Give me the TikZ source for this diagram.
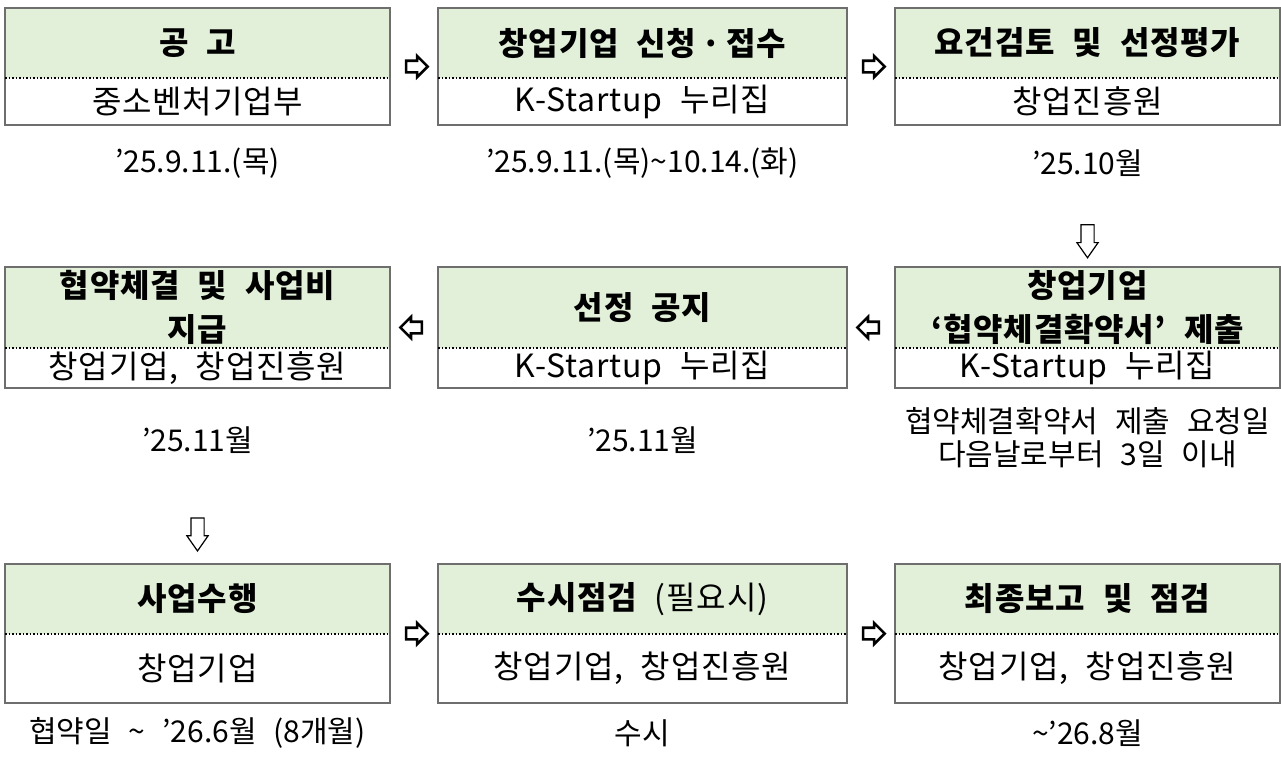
\documentclass[tikz,border=0pt]{standalone}
\usepackage{fontspec}
\setmainfont{Noto Sans CJK KR}[WordSpace=2.5]
\newfontfamily\boxfont{Noto Sans CJK KR}[WordSpace=2.2, LetterSpace=2.5]
\usepackage{xcolor}
\usepackage{tikz}
\usetikzlibrary{arrows.meta, positioning, calc, fit, shapes.arrows}

\definecolor{headgreen}{RGB}{226,240,217}
\definecolor{boxline}{RGB}{110,110,110}

\tikzset{
  head/.style={fill=headgreen, inner sep=0pt, outer sep=0pt, align=center, font=\fontsize{32}{44}\boxfont\bfseries},
  org/.style={inner sep=0pt, outer sep=0pt, align=center, font=\fontsize{32}{36}\boxfont},
  boxframe/.style={draw=boxline, line width=2pt, inner sep=0pt, outer sep=0pt},
  divider/.style={dotted, line width=1.5pt},
  when/.style={align=center, font=\fontsize{30}{33}\selectfont},
  rarrow/.style={single arrow, draw, fill=white, line width=2.6pt, inner sep=4.5pt, minimum height=21.5pt, minimum width=18.5pt, single arrow head extend=4.8pt},
  larrow/.style={rarrow, shape border rotate=180},
  darrow/.style={single arrow, draw, fill=white, line width=1.2pt, inner sep=6pt, minimum height=33pt, minimum width=20pt, single arrow head extend=4pt, single arrow tip angle=70, shape border rotate=270},
}

\begin{document}
\begin{tikzpicture}[x=1pt, y=-1pt]
  \useasboundingbox (0,0) rectangle (1281,756);

  % ----- Parameters -----
  \def\wa{385pt} % side columns
  \def\wb{409pt} % middle column

  % ----- Row 1 -----
  \node[head, minimum width=\wa, minimum height=70pt, anchor=north] (h1) at (197.5,8) {공 고};
  \node[org, minimum width=\wa, minimum height=47pt, below=0pt of h1] (o1) {중소벤처기업부};
  \node[boxframe, fit=(h1)(o1)] (b1) {};
  \draw[divider] (h1.south west) -- (h1.south east);

  \node[head, minimum width=\wb, minimum height=70pt, anchor=north] (h2) at (642.5,8) {창업기업 신청\,·\,접수};
  \node[org, minimum width=\wb, minimum height=47pt, below=0pt of h2] (o2) {K-Startup 누리집};
  \node[boxframe, fit=(h2)(o2)] (b2) {};
  \draw[divider] (h2.south west) -- (h2.south east);

  \node[head, minimum width=\wa, minimum height=70pt, anchor=north] (h3) at (1087.5,8) {요건검토 및 선정평가};
  \node[org, minimum width=\wa, minimum height=47pt, below=0pt of h3] (o3) {창업진흥원};
  \node[boxframe, fit=(h3)(o3)] (b3) {};
  \draw[divider] (h3.south west) -- (h3.south east);

  % dates
  \node[when] (t1) at (197.5,163) {’25.9.11.(목)};
  \node[when] (t2) at (642.5,163) {’25.9.11.(목)\textasciitilde{}10.14.(화)};
  \node[when] (t3) at (1087.5,163) {’25.10월};

  % ----- Row 2 -----
  \node[head, minimum width=\wa, minimum height=81pt, anchor=north] (h6) at (1087.5,267) {창업기업\\‘협약체결확약서’ 제출};
  \node[org, minimum width=\wa, minimum height=40pt, below=0pt of h6] (o6) {K-Startup 누리집};
  \node[boxframe, fit=(h6)(o6)] (b6) {};
  \draw[divider] (h6.south west) -- (h6.south east);

  \node[head, minimum width=\wb, minimum height=81pt, anchor=north] (h5) at (642.5,267) {선정 공지};
  \node[org, minimum width=\wb, minimum height=40pt, below=0pt of h5] (o5) {K-Startup 누리집};
  \node[boxframe, fit=(h5)(o5)] (b5) {};
  \draw[divider] (h5.south west) -- (h5.south east);

  \node[head, minimum width=\wa, minimum height=81pt, anchor=north] (h4) at (197.5,267) {협약체결 및 사업비\\지급};
  \node[org, minimum width=\wa, minimum height=40pt, below=0pt of h4] (o4) {창업기업, 창업진흥원};
  \node[boxframe, fit=(h4)(o4)] (b4) {};
  \draw[divider] (h4.south west) -- (h4.south east);

  % dates
  \node[when] (t6) at (1087.5,438) {협약체결확약서 제출 요청일\\다음날로부터 3일 이내};
  \node[when] (t5) at (642.5,440) {’25.11월};
  \node[when] (t4) at (197.5,440) {’25.11월};

  % ----- Row 3 -----
  \node[head, minimum width=\wa, minimum height=70pt, anchor=north] (h7) at (197.5,564) {사업수행};
  \node[org, minimum width=\wa, minimum height=69pt, below=0pt of h7] (o7) {창업기업};
  \node[boxframe, fit=(h7)(o7)] (b7) {};
  \draw[divider] (h7.south west) -- (h7.south east);

  \node[head, minimum width=\wb, minimum height=70pt, anchor=north] (h8) at (642.5,564) {수시점검 {\mdseries (필요시)}};
  \node[org, minimum width=\wb, minimum height=69pt, below=0pt of h8] (o8) {창업기업, 창업진흥원};
  \node[boxframe, fit=(h8)(o8)] (b8) {};
  \draw[divider] (h8.south west) -- (h8.south east);

  \node[head, minimum width=\wa, minimum height=70pt, anchor=north] (h9) at (1087.5,564) {최종보고 및 점검};
  \node[org, minimum width=\wa, minimum height=69pt, below=0pt of h9] (o9) {창업기업, 창업진흥원};
  \node[boxframe, fit=(h9)(o9)] (b9) {};
  \draw[divider] (h9.south west) -- (h9.south east);

  % dates
  \node[when] (t7) at (197.5,733) {협약일 \textasciitilde{} ’26.6월 (8개월)};
  \node[when] (t8) at (642.5,733) {수시};
  \node[when] (t9) at (1087.5,733) {\textasciitilde{}’26.8월};

  % ----- Arrows -----
  \path (b1) -- node[rarrow] (a1) {} (b2);
  \path (b2) -- node[rarrow] (a2) {} (b3);
  \path (t3) -- node[darrow, pos=0.65] (a3) {} (b6);
  \path (b6) -- node[larrow] (a4) {} (b5);
  \path (b5) -- node[larrow] (a5) {} (b4);
  \path (t4) -- node[darrow, pos=0.68] (a6) {} (b7);
  \path (b7) -- node[rarrow] (a7) {} (b8);
  \path (b8) -- node[rarrow] (a8) {} (b9);

\end{tikzpicture}
\end{document}
